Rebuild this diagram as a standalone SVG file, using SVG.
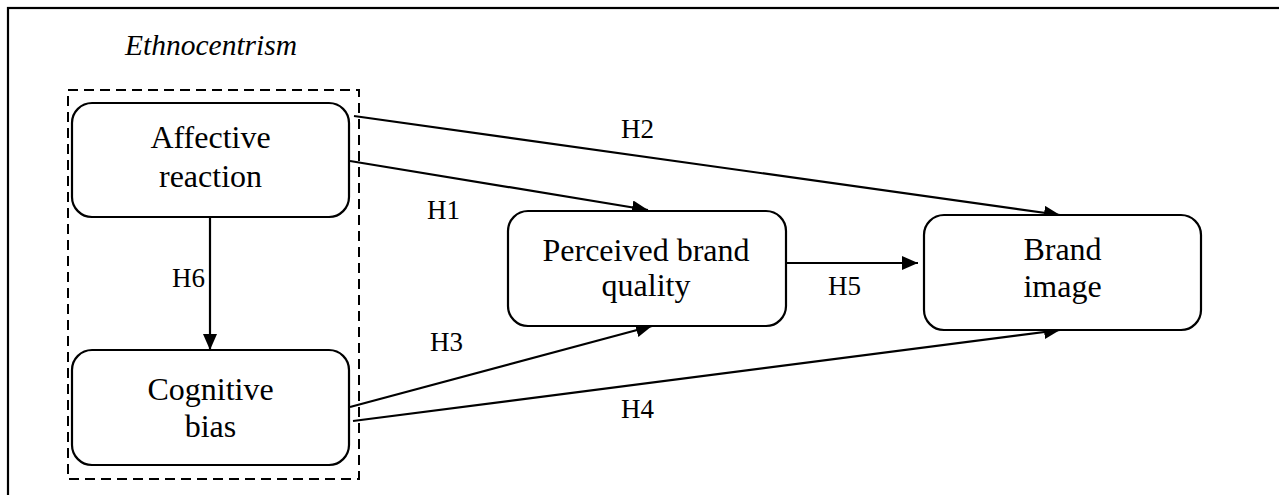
<svg xmlns="http://www.w3.org/2000/svg" width="1279" height="495" viewBox="0 0 1279 495">
<style>
.box{fill:#fff;stroke:#000;stroke-width:2.2}
.node{font-family:"Liberation Serif","Times New Roman",serif;font-size:32px;fill:#000;text-anchor:middle}
.lbl{font-family:"Liberation Serif","Times New Roman",serif;font-size:27px;fill:#000}
.edge{stroke:#000;stroke-width:2.2;fill:none;marker-end:url(#arr)}
</style>
<defs>
<marker id="arr" markerUnits="userSpaceOnUse" markerWidth="17" markerHeight="15" refX="16" refY="7" orient="auto">
<path d="M0,0 L16,7 L0,14 Z" fill="#000"/>
</marker>
</defs>
<rect width="1279" height="495" fill="#fff"/>
<rect id="frame" x="8" y="8" width="1300" height="520" fill="none" stroke="#000" stroke-width="2.2"/>
<g id="ethnocentrism">
<text x="125" y="55" font-family="Liberation Serif,'Times New Roman',serif" font-style="italic" font-size="29.5">Ethnocentrism</text>
<rect x="68" y="90" width="291" height="389" fill="none" stroke="#000" stroke-width="2" stroke-dasharray="10,6"/>
</g>
<g id="connectors">
<line class="edge" x1="210" y1="217" x2="210" y2="350"/>
<line class="edge" x1="354" y1="116" x2="1060" y2="215"/>
<line class="edge" x1="350" y1="161" x2="648" y2="210"/>
<line class="edge" x1="350" y1="407" x2="652" y2="326"/>
<line class="edge" x1="353" y1="421" x2="1060" y2="330"/>
<line class="edge" x1="782" y1="263" x2="918" y2="263"/>
<text class="lbl" x="621" y="138">H2</text>
<text class="lbl" x="427" y="219">H1</text>
<text class="lbl" x="172" y="287">H6</text>
<text class="lbl" x="828" y="295">H5</text>
<text class="lbl" x="430" y="351">H3</text>
<text class="lbl" x="621" y="418">H4</text>
</g>
<g id="affective">
<rect class="box" x="72" y="103" width="277" height="114" rx="20"/>
<text class="node" x="210.5" y="148">Affective</text>
<text class="node" x="210.5" y="187">reaction</text>
</g>
<g id="cognitive">
<rect class="box" x="72" y="350" width="277" height="115" rx="20"/>
<text class="node" x="210.5" y="400">Cognitive</text>
<text class="node" x="210.5" y="437">bias</text>
</g>
<g id="perceived">
<rect class="box" x="508" y="211" width="278" height="115" rx="20"/>
<text class="node" x="646" y="261">Perceived brand</text>
<text class="node" x="646" y="296">quality</text>
</g>
<g id="brand">
<rect class="box" x="924" y="215" width="277" height="115" rx="20"/>
<text class="node" x="1062.5" y="260">Brand</text>
<text class="node" x="1062.5" y="297">image</text>
</g>
</svg>
